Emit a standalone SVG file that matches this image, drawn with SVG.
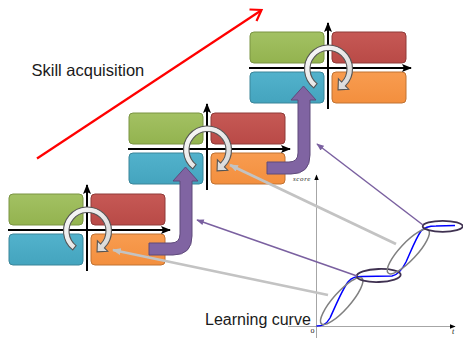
<svg xmlns="http://www.w3.org/2000/svg" width="463" height="339" viewBox="0 0 463 339">
<style>
.g{fill:url(#gG);stroke:#7a9443;stroke-width:1}
.r{fill:url(#gR);stroke:#8f3b39;stroke-width:1}
.b{fill:url(#gB);stroke:#3a8599;stroke-width:1}
.o{fill:url(#gO);stroke:#c07232;stroke-width:1}
.ax{stroke:#000;stroke-width:2;fill:none}
.cyc{fill:url(#gC);stroke:#555;stroke-width:1.1}
.pa{fill:#8064a2;stroke:#5f4a7b;stroke-width:1}
.gl{stroke:#c3c3c3;stroke-width:2.8;fill:none}
.pl{stroke:#7a60a0;stroke-width:1.5;fill:none}
.cax{stroke:#a6a6a6;stroke-width:1;fill:none}
.el1{fill:none;stroke:#808080;stroke-width:1.5}
.el2{fill:none;stroke:#3f3151;stroke-width:1.8}
.lbl{font-family:"Liberation Sans",Arial,sans-serif;fill:#1a1a1a}
.sm{font-family:"Liberation Serif","Times New Roman",serif;fill:#222}
</style>
<defs>
<linearGradient id="gG" x1="0" y1="0" x2="0" y2="1"><stop offset="0" stop-color="#a3c163"/><stop offset="1" stop-color="#93b34f"/></linearGradient>
<linearGradient id="gR" x1="0" y1="0" x2="0" y2="1"><stop offset="0" stop-color="#c65955"/><stop offset="1" stop-color="#b94a47"/></linearGradient>
<linearGradient id="gB" x1="0" y1="0" x2="0" y2="1"><stop offset="0" stop-color="#52b2cc"/><stop offset="1" stop-color="#44a4be"/></linearGradient>
<linearGradient id="gO" x1="0" y1="0" x2="0" y2="1"><stop offset="0" stop-color="#f89c50"/><stop offset="1" stop-color="#f38f3e"/></linearGradient>
<linearGradient id="gC" x1="0" y1="0" x2="1" y2="1"><stop offset="0" stop-color="#fbfbfb"/><stop offset="1" stop-color="#d6d6d6"/></linearGradient>
<marker id="ah" viewBox="0 0 10 8" refX="9" refY="4" markerWidth="10" markerHeight="8" markerUnits="userSpaceOnUse" orient="auto"><path d="M0,0 L10,4 L0,8 L2,4 Z" fill="#000"/></marker>
<marker id="ahs" viewBox="0 0 10 8" refX="9" refY="4" markerWidth="6" markerHeight="5" markerUnits="userSpaceOnUse" orient="auto"><path d="M0,0 L10,4 L0,8 Z" fill="#000"/></marker>
<marker id="ahg" viewBox="0 0 10 8" refX="9" refY="4" markerWidth="9" markerHeight="7" markerUnits="userSpaceOnUse" orient="auto"><path d="M0,0 L10,4 L0,8 Z" fill="#c3c3c3"/></marker>
<marker id="ahp" viewBox="0 0 10 8" refX="9" refY="4" markerWidth="8" markerHeight="6" markerUnits="userSpaceOnUse" orient="auto"><path d="M0,0 L10,4 L0,8 Z" fill="#7a60a0"/></marker>
<g id="quad">
<rect class="g" x="-78" y="-36" width="74" height="31" rx="4"/>
<rect class="r" x="4" y="-36" width="74" height="31" rx="4"/>
<rect class="b" x="-78" y="4" width="74" height="31" rx="4"/>
<rect class="o" x="4" y="4" width="74" height="31" rx="4"/>
<line class="ax" x1="-79" y1="0" x2="83" y2="0" marker-end="url(#ah)"/>
<line class="ax" x1="0" y1="41" x2="0" y2="-45" marker-end="url(#ah)"/>
<path class="cyc" transform="translate(0.5,1)" d="M -14.78 18.91 A 24 24 0 1 1 16.97 16.97 L 20.2 20.2 L 9.54 20.86 L 9.9 9.9 L 13.08 13.08 A 18.5 18.5 0 1 0 -11.39 14.58 Z"/>
</g>
<path id="parrow" d="M 149 243 L 171 243 Q 180 243 180 234 L 180 181 L 173 181 L 185.5 167 L 198 181 L 192 181 L 192 236 Q 192 255 173 255 L 149 255 Z"/>
</defs>

<g id="label-skill"><text class="lbl" x="31.5" y="76" font-size="16.5">Skill acquisition</text></g>

<g id="stage1"><use href="#quad" transform="translate(87,230)"/></g>
<g id="stage2"><use href="#quad" transform="translate(207,149)"/></g>
<g id="stage3"><use href="#quad" transform="translate(328,68)"/></g>

<g id="chart">
<line class="cax" x1="288" y1="326.5" x2="455" y2="326.5" marker-end="url(#ahs)"/>
<line class="cax" x1="316.5" y1="338" x2="316.5" y2="175" marker-end="url(#ahs)"/>
<text class="sm" x="293" y="180.5" font-size="7" font-style="italic" letter-spacing="0.6">score</text>
<text class="sm" x="310.5" y="333" font-size="8">o</text>
<text class="sm" x="452" y="334" font-size="8" font-style="italic">t</text>
<path d="M 316.5 326 C 322 326 326 325 330 318 C 336 305 342 290 348 282 C 352 277 356 276.5 362 276.5 L 392 276 C 398 275 402 270 406 262 C 411 251 416 238 421 231 C 425 226.5 430 226 436 226 L 455 225.5" fill="none" stroke="#0000ff" stroke-width="1.5"/>
<ellipse class="el1" cx="341.7" cy="301" rx="30.5" ry="8.5" transform="rotate(-48.5 341.7 301)"/>
<ellipse class="el2" cx="378.7" cy="275.5" rx="22" ry="6.5" transform="rotate(-2 378.7 275.5)"/>
<ellipse class="el1" cx="408.3" cy="251.5" rx="29.5" ry="8.5" transform="rotate(-47 408.3 251.5)"/>
<ellipse class="el2" cx="442.7" cy="226.3" rx="20" ry="5.5"/>
</g>

<g id="label-learning"><text class="lbl" x="205" y="325" font-size="16">Learning curve</text></g>

<g id="connectors">
<line x1="37" y1="158.5" x2="261" y2="10.5" stroke="#ff0000" stroke-width="2.2"/>
<polyline points="249.5,9.5 261.5,10 256.5,21" fill="none" stroke="#ff0000" stroke-width="2.2" stroke-linejoin="miter"/>
<use href="#parrow" class="pa"/>
<use href="#parrow" class="pa" transform="translate(118,-81)"/>
<line class="gl" x1="328" y1="295" x2="113" y2="250" marker-end="url(#ahg)"/>
<line class="gl" x1="396" y1="244" x2="230" y2="165" marker-end="url(#ahg)"/>
<line class="pl" x1="357" y1="276" x2="197" y2="220" marker-end="url(#ahp)"/>
<line class="pl" x1="423" y1="225" x2="317" y2="144" marker-end="url(#ahp)"/>
</g>
</svg>
